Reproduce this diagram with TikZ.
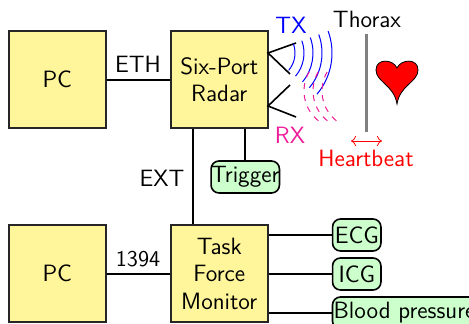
\documentclass[tikz,border=0pt]{standalone}
\usetikzlibrary{calc,arrows.meta}
\usepackage{fontspec}
\setmainfont{Latin Modern Sans}
\definecolor{boxy}{HTML}{FFF59B}
\definecolor{boxg}{HTML}{CCFFCC}
\definecolor{pinkish}{HTML}{EE1C9A}
\tikzset{
  box/.style={draw=black!85,fill=boxy,line width=.8pt,minimum width=48.5pt,minimum height=48.5pt,inner sep=0pt,align=center,font=\fontsize{11.8}{13.7}\selectfont},
  sensor/.style={draw=black,fill=boxg,line width=.8pt,rounded corners=4pt,minimum height=16pt,inner sep=0pt,font=\fontsize{11.8}{13.7}\selectfont},
  conn/.style={line width=.8pt},
  lab/.style={inner sep=0pt,font=\fontsize{11.8}{13.7}\selectfont},
  horn/.style={line width=.8pt},
  txwave/.style={blue,line width=.5pt},
  rxwave/.style={pinkish,line width=.5pt,dash pattern=on 3pt off 3pt},
}
\begin{document}
\begin{tikzpicture}[x=.5pt,y=-.5pt]
\useasboundingbox (0,0) rectangle (469,324);
\clip (0,0) rectangle (469,324);
\node[box] (pc1) at (57.25,79.75) {PC};
\node[box] (radar) at (219.25,79.75) {Six-Port\\Radar};
\node[box] (pc2) at (57.25,273.75) {PC};
\node[box] (tfm) at (219.25,273.75) {Task\\Force\\Monitor};
\node[sensor,minimum width=34.2pt] (trig) at (245.25,177) {Trigger};
\node[sensor,minimum width=24.2pt] (ecg) at (356.75,235) {ECG};
\node[sensor,minimum width=24.2pt] (icg) at (356.75,274) {ICG};
\node[sensor,minimum width=72pt] (bp) at (404.5,313) {Blood pressure};
\draw[conn] (pc1) -- (radar);
\draw[conn] (pc2) -- (tfm);
\draw[conn] (radar.south -| 193,0) -- (tfm.north -| 193,0);
\draw[conn] (radar.south -| trig) -- (trig);
\draw[conn] (tfm.east |- ecg) -- (ecg);
\draw[conn] (tfm.east |- icg) -- (icg);
\draw[conn] (tfm.east |- bp) -- (bp);
\node[lab] (eth) at (138,64) {ETH};
\node[lab,font=\fontsize{11.3}{13}\selectfont] (fw) at (138,259) {1394};
\node[lab] (ext) at (162,178) {EXT};
\node[lab,text=blue] (tx) at (291,25) {TX};
\node[lab,text=pinkish] (rx) at (290,135) {RX};
\node[lab] (thorax) at (367,19) {Thorax};
\node[lab,text=red] (hb) at (366,158) {Heartbeat};
\coordinate (t0) at (268,53);
\coordinate (r0) at (268,106);
\draw[horn] (296,43) -- (t0) -- (290,74);
\draw[horn] (296,117) -- (r0) -- (290,85);
\foreach \r in {27,36,45,54,64}
  \draw[txwave] ($(t0)+(20:\r*.5pt)$) arc[start angle=20,end angle=-40,radius=\r*.5pt];
\foreach \cx in {342,351,360}
  \draw[rxwave] ($(\cx,91)+(150:19pt)$) arc[start angle=150,end angle=232,radius=19pt];
\draw[gray,line width=1.8pt] (366.5,34) -- (366.5,132);
\draw[red,{To[length=2.5pt,width=5pt]}-{To[length=2.5pt,width=5pt]},line width=.4pt] (351,141) -- (382,141);
\draw[black,fill=red,line width=.4pt] (397,104) .. controls (394,85) and (376,82) .. (376,70) .. controls (376,58) and (393,59) .. (397,68) .. controls (401,59) and (418,58) .. (418,70) .. controls (418,82) and (400,85) .. (397,104) -- cycle;
\end{tikzpicture}
\end{document}
